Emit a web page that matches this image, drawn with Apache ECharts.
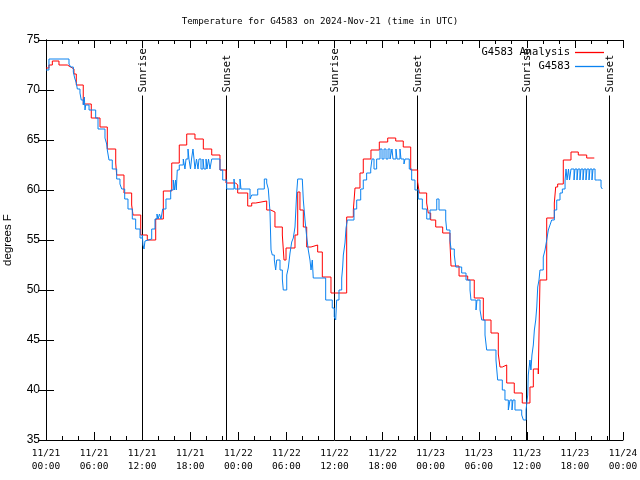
<!DOCTYPE html>
<html><head><meta charset="utf-8">
<script src="https://cdn.jsdelivr.net/npm/echarts@6/dist/echarts.min.js"></script>
<style>html,body{margin:0;padding:0;background:#fff}#c{width:640px;height:480px}</style>
</head><body><div id="c"></div>
<script>
// hours since 2024-11-21 00:00 UTC
const redHours = [0.00,0.37,0.79,1.62,2.66,3.08,3.49,3.78,4.65,5.65,6.74,7.65,8.70,8.82,9.73,10.69,10.86,11.82,12.64,13.69,14.64,15.69,16.63,17.56,18.59,19.63,20.68,21.71,22.46,23.67,23.92,25.17,25.67,26.17,27.54,28.04,28.57,29.49,29.70,29.95,31.07,31.41,31.69,32.11,32.53,33.07,33.90,34.48,35.56,37.52,38.35,38.56,39.18,39.59,40.55,41.59,42.64,43.64,44.58,45.51,46.38,46.58,47.50,47.70,48.00,48.63,49.50,50.41,50.54,51.54,52.62,53.44,54.57,55.53,56.44,56.65,56.94,57.49,58.43,59.43,60.39,60.81,61.43,61.64,62.48,63.43,63.60,63.85,64.55,65.51,66.42,67.47,68.42];
const redValues = [72.2,72.5,72.9,72.5,72.3,72.1,71.6,70.5,68.6,67.2,66.3,64.1,62.7,61.5,59.7,58.5,57.5,55.5,55.0,57.1,59.9,62.7,64.5,65.6,65.1,64.1,63.5,62.0,60.7,60.5,59.7,58.4,58.7,58.9,58.0,57.8,56.3,55.5,53.0,54.2,55.5,59.8,58.0,56.3,54.3,54.5,53.8,51.3,49.7,57.3,58.0,60.2,61.7,63.1,64.0,64.8,65.2,64.9,64.3,62.0,60.8,59.7,58.7,57.7,57.0,56.3,55.7,54.7,52.4,51.4,51.0,49.2,47.0,45.7,43.6,42.3,42.5,40.7,39.7,38.7,40.3,42.1,41.6,51.0,57.2,58.7,60.3,60.6,63.0,63.8,63.5,63.2,63.2];

const blueHours = [0.00,0.37,2.87,3.08,3.41,3.58,3.78,3.91,4.24,4.40,4.65,4.78,4.87,4.95,5.37,6.20,6.49,7.36,7.57,7.65,7.86,8.27,8.82,9.23,9.45,9.82,10.23,10.77,11.19,11.73,12.02,12.10,12.23,12.35,12.48,13.19,13.60,13.85,13.98,14.16,14.35,14.56,14.97,15.56,15.88,16.03,16.16,16.26,16.38,16.63,17.13,17.34,17.47,17.72,17.84,18.03,18.16,18.34,18.47,18.59,18.78,18.97,19.09,19.34,19.59,19.72,19.97,20.09,20.28,20.46,20.68,21.71,22.05,22.55,23.46,23.58,24.21,24.33,25.46,25.67,26.42,27.24,27.54,27.74,27.95,28.08,28.24,28.49,28.66,28.79,29.20,29.49,29.61,30.04,30.23,30.45,30.66,30.86,31.07,31.28,31.41,31.98,32.11,32.32,32.53,32.73,32.94,33.07,33.23,33.35,34.90,35.72,35.97,36.15,36.27,36.56,36.90,37.02,37.10,37.31,37.44,37.60,38.43,38.77,39.27,39.59,40.01,40.52,40.68,40.93,41.26,41.68,41.93,42.18,42.43,42.68,42.93,43.17,43.30,43.67,43.80,44.17,44.30,44.67,44.80,45.33,45.63,46.04,46.46,46.96,47.51,47.92,48.76,49.04,49.88,50.00,50.41,50.54,50.95,51.13,51.87,52.41,52.91,53.03,53.66,53.78,54.16,54.37,54.78,54.99,56.15,56.36,56.94,57.27,57.69,57.90,58.15,58.27,58.52,59.36,59.57,59.90,60.11,60.18,60.39,60.51,60.64,60.81,60.94,61.11,61.24,61.36,61.52,61.64,62.05,62.27,62.48,62.68,62.89,63.10,63.43,63.73,64.14,64.43,64.77,64.89,65.02,65.20,65.33,65.51,65.89,66.01,66.26,66.38,66.63,66.76,67.01,67.13,67.38,67.51,67.76,67.88,68.13,68.26,68.51,68.84,69.26,69.42];
const blueValues = [72.0,73.1,72.6,72.3,71.8,71.2,70.7,70.1,69.7,69.0,68.5,69.3,68.0,68.5,68.0,67.2,66.1,65.2,64.6,64.0,63.0,62.1,61.1,60.6,60.1,59.1,58.1,57.1,56.1,55.2,55.5,54.5,54.1,54.9,55.1,56.1,57.1,57.6,57.1,57.6,57.1,58.1,59.1,60.0,61.0,60.0,61.0,60.0,62.0,62.5,63.1,62.1,63.1,64.1,63.1,62.1,63.1,64.1,63.1,62.1,63.1,62.1,63.1,62.1,63.1,62.1,63.1,62.1,63.1,62.1,63.1,62.0,61.0,60.1,61.1,60.1,61.1,60.1,59.1,59.5,60.1,61.1,60.7,60.1,57.8,54.0,53.5,53.0,52.0,53.0,52.0,51.1,50.0,51.5,52.2,53.7,54.8,55.2,56.3,59.7,61.1,61.1,59.0,57.0,55.3,54.0,53.0,52.0,53.0,51.2,49.0,48.2,47.3,47.0,49.0,50.0,51.2,52.3,53.5,54.7,56.2,57.0,58.1,59.0,60.1,61.0,61.7,62.1,63.1,62.1,63.1,64.1,63.1,64.1,63.1,64.1,63.1,64.1,63.1,64.1,63.1,64.1,63.1,62.6,63.1,62.1,61.0,60.0,59.1,58.1,57.1,58.0,59.1,58.0,57.0,56.0,55.0,54.1,53.5,52.3,51.7,51.0,50.0,49.0,48.0,49.0,48.0,47.0,45.5,44.0,43.0,41.0,40.0,39.0,38.0,39.0,38.0,39.0,38.0,37.5,37.0,38.0,39.5,41.5,43.0,42.0,43.5,44.5,46.0,47.0,48.3,50.3,51.0,52.0,53.3,54.0,55.0,56.0,56.5,57.0,58.0,59.0,59.7,60.1,61.0,62.1,61.0,62.1,61.0,62.1,61.0,62.1,61.0,62.1,61.0,62.1,61.0,62.1,61.0,62.1,61.0,62.1,61.0,62.1,61.0,61.0,60.3,60.1];

const eventHours = [12.02, 22.46, 35.97, 46.33, 59.93, 70.29];
const eventLabels = ['Sunrise','Sunset','Sunrise','Sunset','Sunrise','Sunset'];

const yTicks = [35,40,45,50,55,60,65,70,75];

const MONO = '"DejaVu Sans Mono", "Liberation Mono", monospace';
const SANS = '"Liberation Sans", Arial, sans-serif';

function pairs(xs, ys){ return xs.map((x,i)=>[x, ys[i]]); }
function pad(n){ return (n<10?'0':'')+n; }

const chart = echarts.init(document.getElementById('c'), null, {renderer:'canvas'});
const axisLineStyle = {color:'#000', width:1};
chart.setOption({
  animation:false,
  backgroundColor:'#fff',
  title:{text:'Temperature for G4583 on 2024-Nov-21 (time in UTC)', left:'center', top:12,
    textStyle:{fontFamily:MONO, fontSize:9.2, fontWeight:'normal', color:'#000'}},
  grid:{left:46, right:17, top:40, bottom:40, containLabel:false, outerBoundsMode:'none'},
  legend:[
    {data:['G4583 Analysis'], right:31, top:42, orient:'vertical', align:'right', icon:'rect', itemWidth:29, itemHeight:1.3, itemGap:2,
      textStyle:{fontFamily:MONO, fontSize:10.5, color:'#000'}},
    {data:['G4583'], right:31, top:56, orient:'vertical', align:'right', icon:'rect', itemWidth:29, itemHeight:1.3,
      textStyle:{fontFamily:MONO, fontSize:10.5, color:'#000'}}
  ],
  xAxis:[
    {type:'value', min:0, max:72, interval:6, position:'bottom',
      axisLine:{show:true, lineStyle:axisLineStyle},
      axisTick:{show:true, inside:true, length:8, lineStyle:axisLineStyle},
      minorTick:{show:true, splitNumber:3, length:4, lineStyle:axisLineStyle},
      splitLine:{show:false},
      axisLabel:{margin:7, fontFamily:MONO, fontSize:9.5, lineHeight:13, color:'#000', hideOverlap:false,
        formatter:function(v){ const d = 21 + Math.floor(v/24); const hh = v % 24; return '11/'+d+'\n'+pad(hh)+':00'; }}},
    {type:'value', min:0, max:72, interval:6, position:'top',
      axisLine:{show:true, lineStyle:axisLineStyle},
      axisTick:{show:true, inside:true, length:8, lineStyle:axisLineStyle},
      minorTick:{show:true, splitNumber:3, length:4, lineStyle:axisLineStyle},
      splitLine:{show:false}, axisLabel:{show:false}}
  ],
  yAxis:[
    {type:'value', min:35, max:75, interval:5, position:'left',
      name:'degrees F', nameLocation:'middle', nameGap:32, nameRotate:90,
      nameTextStyle:{fontFamily:SANS, fontSize:11.5, color:'#000'},
      axisLine:{show:true, lineStyle:axisLineStyle},
      axisTick:{show:true, inside:true, length:8, lineStyle:axisLineStyle},
      splitLine:{show:false},
      axisLabel:{margin:6, fontFamily:SANS, fontSize:12, color:'#000',
        formatter:function(v){ return yTicks.indexOf(v)>=0 ? String(v) : ''; }}},
    {type:'value', min:35, max:75, interval:5, position:'right',
      axisLine:{show:true, lineStyle:axisLineStyle},
      axisTick:{show:true, inside:true, length:8, lineStyle:axisLineStyle},
      splitLine:{show:false}, axisLabel:{show:false}}
  ],
  series:[
    {type:'custom', name:'events', silent:true, xAxisIndex:0, yAxisIndex:0,
      data: eventHours.map(h=>[h, 35]),
      encode:{x:0, y:1},
      renderItem:function(params, api){
        const h = api.value(0);
        const bot = api.coord([h, 35]);
        const top = api.coord([h, 69.45]);
        return {type:'group', children:[
          {type:'line', shape:{x1:Math.round(bot[0])+0.5, y1:bot[1], x2:Math.round(top[0])+0.5, y2:top[1]},
            style:{stroke:'#000', lineWidth:1}},
          {type:'text', x:Math.round(top[0])+1, y:top[1]-3, rotation:Math.PI/2,
            style:{text:eventLabels[params.dataIndex], x:0, y:0, align:'left', verticalAlign:'middle',
              font:'10.5px '+MONO, fill:'#000'}}
        ]};
      }, z:1},
    {type:'line', name:'G4583 Analysis', step:'end', showSymbol:false, symbol:'none',
      data:pairs(redHours, redValues), lineStyle:{color:'#ff0000', width:1}, itemStyle:{color:'#ff0000'}, z:2},
    {type:'line', name:'G4583', step:'end', showSymbol:false, symbol:'none',
      data:pairs(blueHours, blueValues), lineStyle:{color:'#0a82f0', width:1}, itemStyle:{color:'#0a82f0'}, z:3}
  ]
});
</script></body></html>
